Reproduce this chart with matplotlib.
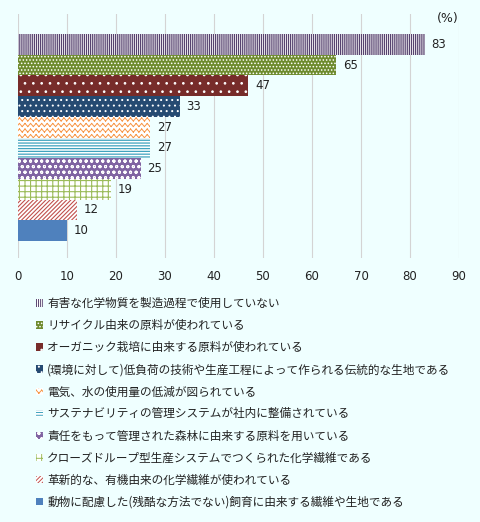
import warnings
warnings.filterwarnings("ignore")
import numpy as np
import matplotlib
matplotlib.use("Agg")
import matplotlib.pyplot as plt
from matplotlib import hatch as mhatch
from matplotlib.path import Path
from matplotlib.patches import Patch

# ---- custom zigzag hatch ('z'), built from separate segments ----
class ZigZagHatch(mhatch.HatchPatternBase):
    def __init__(self, hatch, density):
        self.num_rows = int(hatch.count('z') * density)
        self.teeth = self.num_rows
        self.num_vertices = self.num_rows * self.teeth * 4

    def set_vertices_and_codes(self, vertices, codes):
        n = self.num_rows
        t = self.teeth
        amp = 0.28 / n
        k = 0
        for r in range(n):
            y0 = (r + 0.5) / n
            for i in range(t):
                x0 = i / t
                xm = (i + 0.5) / t
                x1 = (i + 1) / t
                pts = [(x0, y0 - amp), (xm, y0 + amp), (xm, y0 + amp), (x1, y0 - amp)]
                for j, p in enumerate(pts):
                    vertices[k] = p
                    codes[k] = Path.MOVETO if j % 2 == 0 else Path.LINETO
                    k += 1

mhatch._hatch_types.append(ZigZagHatch)

plt.rcParams['font.family'] = ['Noto Sans CJK JP', 'DejaVu Sans']
plt.rcParams['hatch.linewidth'] = 0.7

# ---- data ----
categories = [
    "有害な化学物質を製造過程で使用していない",
    "リサイクル由来の原料が使われている",
    "オーガニック栽培に由来する原料が使われている",
    "(環境に対して)低負荷の技術や生産工程によって作られる伝統的な生地である",
    "電気、水の使用量の低減が図られている",
    "サステナビリティの管理システムが社内に整備されている",
    "責任をもって管理された森林に由来する原料を用いている",
    "クローズドループ型生産システムでつくられた化学繊維である",
    "革新的な、有機由来の化学繊維が使われている",
    "動物に配慮した(残酷な方法でない)飼育に由来する繊維や生地である",
]
values = [83, 65, 47, 33, 27, 27, 25, 19, 12, 10]
xticks = [0, 10, 20, 30, 40, 50, 60, 70, 80, 90]

# (facecolor, hatchcolor, hatch, hatch linewidth)
styles = [
    ("white", "#56436F", "||||||||", 0.9),
    ("#6E8B2E", "white", ".....", 0.7),
    ("#772C2A", "white", "..", 0.7),
    ("#254A72", "white", "...", 0.7),
    ("white", "#F79646", "zzz", 0.7),
    ("white", "#3FA3BE", "------", 0.9),
    ("#8064A2", "white", "ooo", 0.7),
    ("white", "#9BBB59", "+++", 0.8),
    ("white", "#C0504D", "////////", 0.8),
    ("#4F81BD", "#4F81BD", None, 0.7),
]

bg = "#EFFFFF"
fig = plt.figure(figsize=(4.8, 5.22), dpi=100, facecolor=bg)
ax = fig.add_axes([18 / 480, 1 - 258 / 522, 441 / 480, 244 / 522])
ax.set_facecolor(bg)


def apply_style(p, st):
    fc, hc, h, hlw = st
    p.set_facecolor(fc)
    p.set_edgecolor(hc)
    p.set_linewidth(0)
    p.set_hatch(h)
    if hasattr(p, "set_hatch_linewidth"):
        try:
            p.set_hatch_linewidth(hlw)
        except Exception:
            pass


ypos = np.arange(len(values))
bars = ax.barh(ypos, values, height=1.0, linewidth=0)
for b, st in zip(bars, styles):
    apply_style(b, st)

for y, v in zip(ypos, values):
    ax.annotate(str(v), (v, y), xytext=(5, 0), textcoords="offset points",
                ha="left", va="center", fontsize=8.5, color="#222222",
                family=['DejaVu Sans'])

ax.set_xlim(0, 90)
ax.set_ylim(10.32, -1.47)
ax.set_xticks(xticks)
ax.set_xticklabels([str(t) for t in xticks], family=['DejaVu Sans'])
ax.tick_params(axis='x', length=0, pad=9, labelsize=8.5, labelcolor="#222222")
ax.set_yticks([])
ax.grid(axis='x', color="#D4D4D4", linewidth=0.8)
ax.set_axisbelow(True)
for s in ax.spines.values():
    s.set_visible(False)

ax.annotate("(%)", (1.0, 1.0), xycoords="axes fraction", xytext=(0, -3),
            textcoords="offset points", ha="right", va="center",
            fontsize=9, color="#222222", family=['DejaVu Sans'])

handles = []
for st in styles:
    p = Patch()
    apply_style(p, st)
    handles.append(p)
leg = fig.legend(handles, categories, loc="upper left",
                 bbox_to_anchor=(36 / 480, 1 - 297 / 522),
                 frameon=False, fontsize=8.4, handlelength=0.6, handleheight=0.6,
                 handletextpad=0.35, labelspacing=0.78, borderpad=0,
                 borderaxespad=0)
for t in leg.get_texts():
    t.set_color("#222222")

fig.savefig("out.png", dpi=100, facecolor=bg)
